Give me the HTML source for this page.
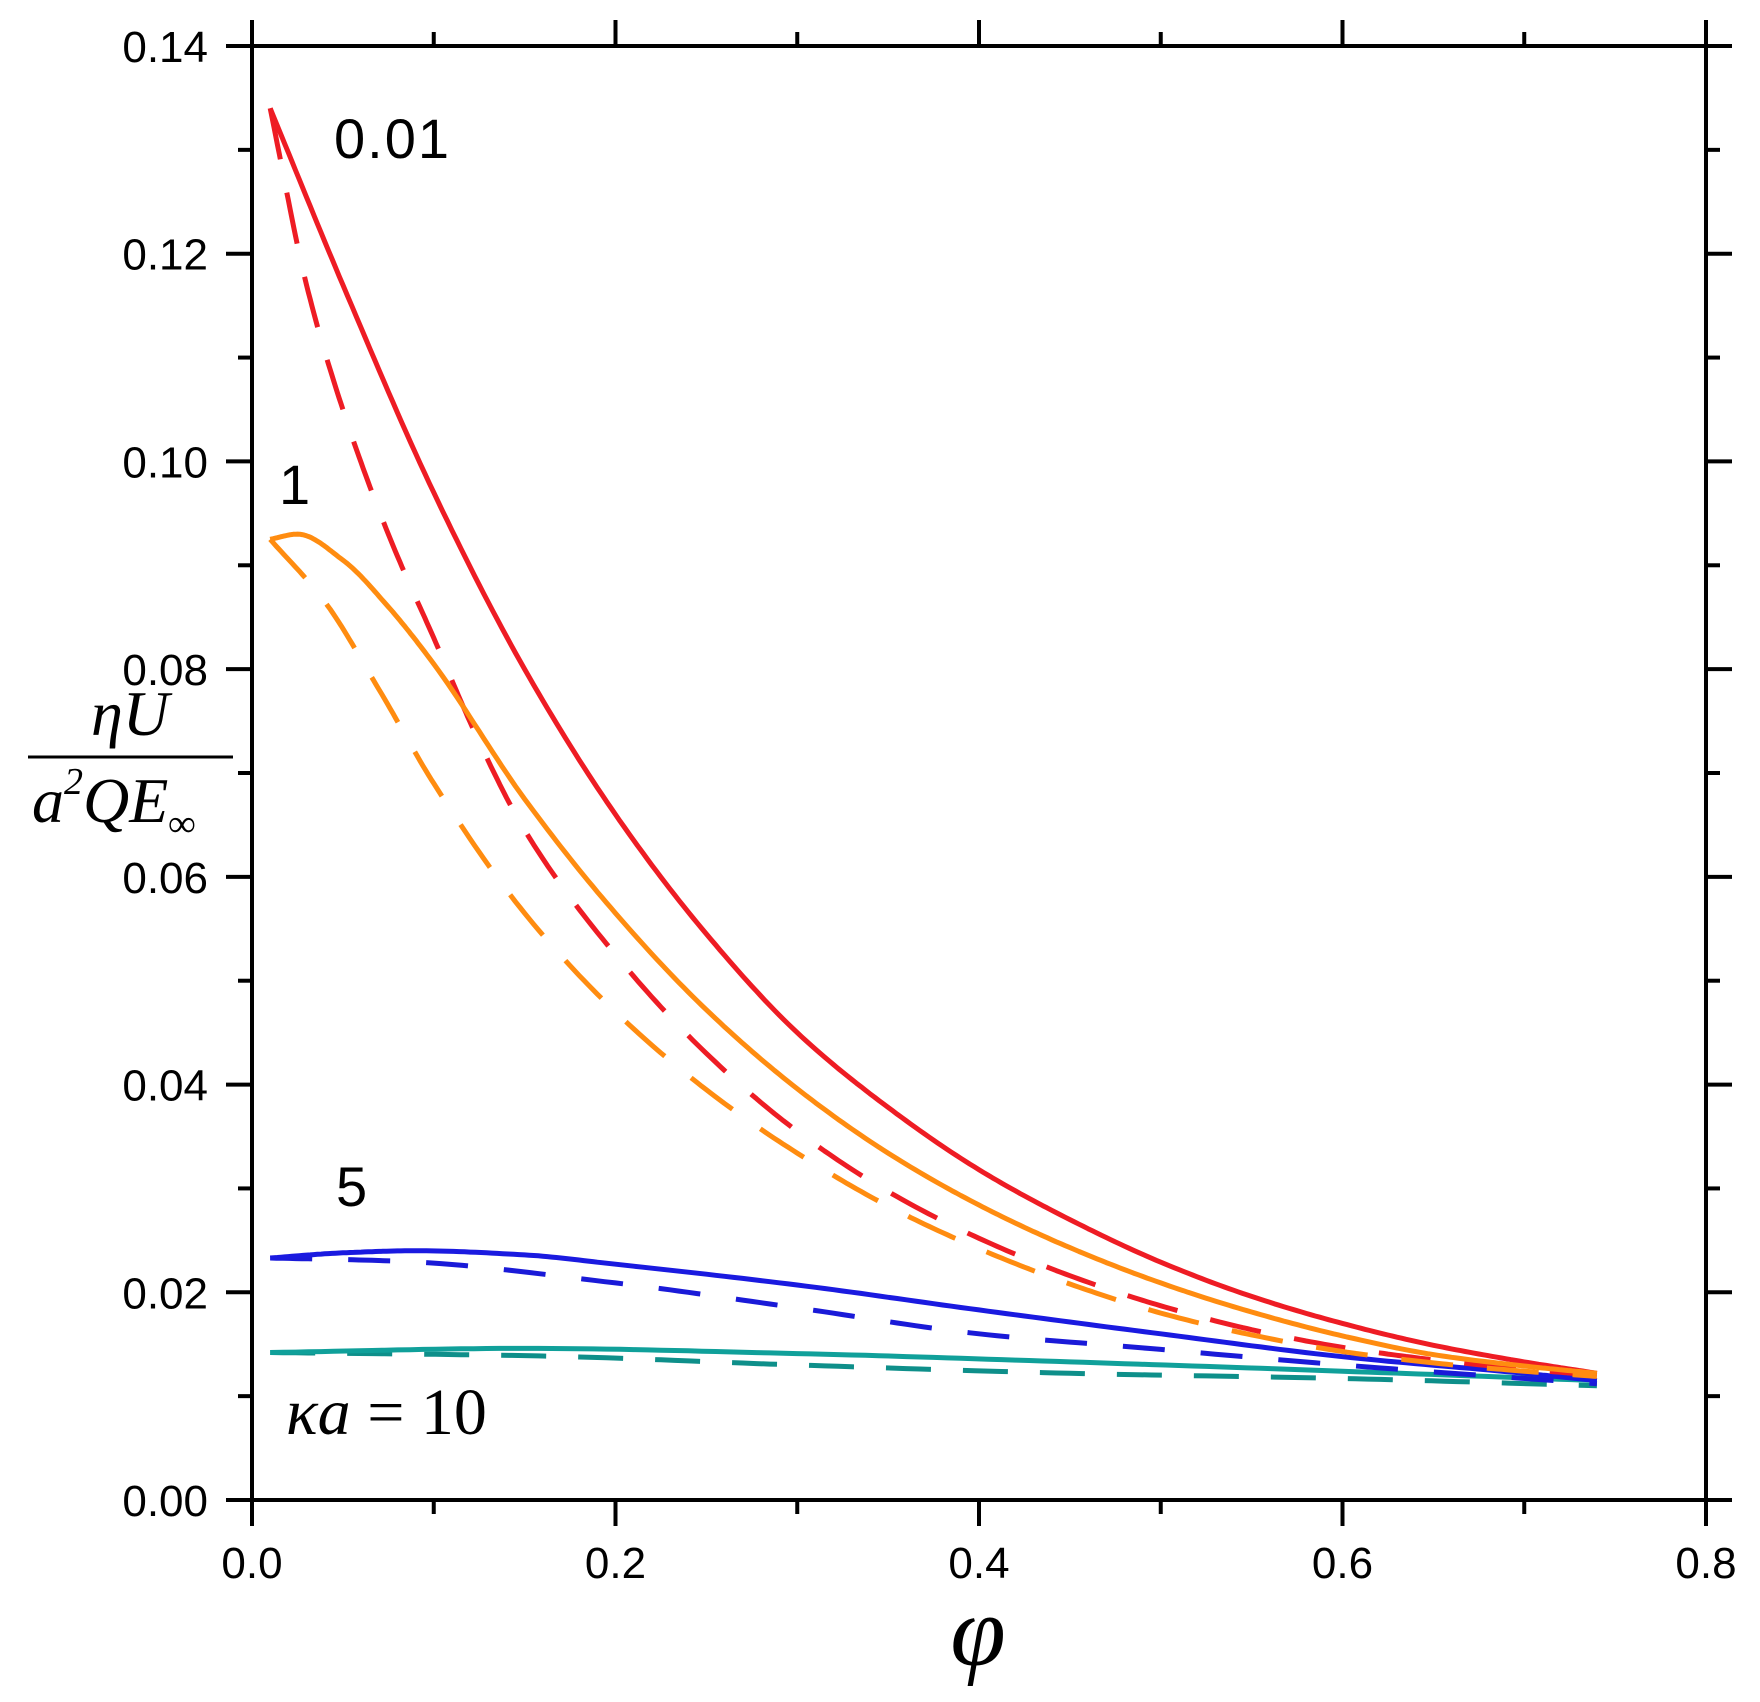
<!DOCTYPE html>
<html><head><meta charset="utf-8"><style>
html,body{margin:0;padding:0;background:#fff;}
svg{display:block;}
.tk{font-family:"Liberation Sans",sans-serif;fill:#000;}
.ser{font-family:"Liberation Serif",serif;font-style:italic;fill:#000;}
</style></head><body>
<svg id="chart" width="1760" height="1702" xmlns="http://www.w3.org/2000/svg">
<g id="axes"></g>
<g id="series"></g>
<text class="ser" x="130" y="735" style="font-size:64px" text-anchor="middle">ηU</text>
<line x1="28" y1="757" x2="233" y2="757" stroke="#000" stroke-width="3"/>
<text class="ser" x="32" y="822" style="font-size:64px">a<tspan style="font-size:38px" dy="-28">2</tspan><tspan dy="28">QE</tspan><tspan style="font-size:38px" dy="14">∞</tspan></text>
<text class="ser" x="978" y="1665" style="font-size:100px" text-anchor="middle">φ</text>
<text class="tk" x="334" y="158" style="font-size:56px;letter-spacing:2px">0.01</text>
<text class="tk" x="279" y="504" style="font-size:56px">1</text>
<text class="tk" x="336" y="1206" style="font-size:56px">5</text>
<text class="ser" x="286" y="1434" style="font-size:66px">κa<tspan style="font-style:normal"> = 10</tspan></text>
</svg>
<script>
const xTicks=[0.0,0.2,0.4,0.6,0.8];
const yTicks=[0.00,0.02,0.04,0.06,0.08,0.10,0.12,0.14];
const xTickLabels=["0.0","0.2","0.4","0.6","0.8"];
const yTickLabels=["0.00","0.02","0.04","0.06","0.08","0.10","0.12","0.14"];
const redSolidX=[0.01,0.05,0.1,0.15,0.2,0.25,0.3,0.35,0.4,0.45,0.5,0.55,0.6,0.65,0.7,0.74];
const redSolidY=[0.134,0.117,0.097,0.080,0.066,0.0545,0.045,0.0378,0.0318,0.027,0.0229,0.0196,0.017,0.0149,0.0133,0.0122];
const redDashX=[0.01,0.03,0.05,0.075,0.1,0.125,0.15,0.2,0.25,0.3,0.35,0.4,0.45,0.5,0.55,0.6,0.65,0.7,0.74];
const redDashY=[0.134,0.117,0.105,0.093,0.083,0.073,0.0645,0.0525,0.043,0.0355,0.0297,0.0252,0.0216,0.0187,0.0164,0.0147,0.0135,0.0126,0.012];
const orangeSolidX=[0.01,0.025,0.05,0.075,0.1,0.15,0.2,0.25,0.3,0.35,0.4,0.45,0.5,0.55,0.6,0.65,0.7,0.74];
const orangeSolidY=[0.0925,0.093,0.0905,0.086,0.0805,0.0675,0.0565,0.0472,0.0396,0.0334,0.0284,0.0243,0.0209,0.0181,0.0158,0.014,0.0129,0.0122];
const orangeDashX=[0.01,0.04,0.07,0.1,0.15,0.2,0.25,0.3,0.35,0.4,0.45,0.5,0.55,0.6,0.65,0.7,0.74];
const orangeDashY=[0.0925,0.0865,0.078,0.069,0.0565,0.047,0.0395,0.0334,0.0283,0.0242,0.0208,0.018,0.0159,0.0143,0.0132,0.0124,0.0119];
const blueSolidX=[0.01,0.05,0.09,0.15,0.2,0.3,0.4,0.5,0.6,0.7,0.74];
const blueSolidY=[0.0233,0.0238,0.024,0.0236,0.0227,0.0207,0.0183,0.016,0.0138,0.0122,0.0115];
const blueDashX=[0.01,0.08,0.2,0.3,0.4,0.5,0.6,0.74];
const blueDashY=[0.0233,0.023,0.0209,0.0185,0.016,0.0145,0.013,0.0112];
const tealSolidX=[0.01,0.15,0.3,0.45,0.6,0.74];
const tealSolidY=[0.0142,0.0146,0.0141,0.0133,0.0124,0.0115];
const tealDashX=[0.01,0.15,0.3,0.45,0.6,0.74];
const tealDashY=[0.0142,0.0139,0.013,0.0122,0.0117,0.011];

const X0=252,X1=1706,Y0=1500,Y1=46;
const sx=v=>X0+(v-0)/0.8*(X1-X0);
const sy=v=>Y0-(v-0)/0.14*(Y0-Y1);
const NS="http://www.w3.org/2000/svg";
const axes=document.getElementById('axes');
function mk(tag,attrs,parent){const e=document.createElementNS(NS,tag);for(const k in attrs)e.setAttribute(k,attrs[k]);parent.appendChild(e);return e;}
const frame=mk('rect',{x:X0,y:Y1,width:X1-X0,height:Y0-Y1,fill:'none',stroke:'#000','stroke-width':4},axes);


for(let i=0;i<=8;i++){const v=i*0.1;const x=sx(v);const maj=i%2===0;const L=maj?26:14;
 const t1=mk('line',{x1:x,y1:Y0,x2:x,y2:Y0+L,stroke:'#000','stroke-width':4},axes);
 
 
 const t2=mk('line',{x1:x,y1:Y1,x2:x,y2:Y1-L,stroke:'#000','stroke-width':4},axes);
 
 }
xTicks.forEach((v,i)=>{const t=mk('text',{x:sx(v),y:Y0+78,'text-anchor':'middle',class:'tk',style:'font-size:44px'},axes);t.textContent=xTickLabels[i];
 
 });
for(let i=0;i<=14;i++){const v=i*0.01;const y=sy(v);const maj=i%2===0;const L=maj?26:14;
 const t1=mk('line',{x1:X0,y1:y,x2:X0-L,y2:y,stroke:'#000','stroke-width':4},axes);
 
 
 const t2=mk('line',{x1:X1,y1:y,x2:X1+L,y2:y,stroke:'#000','stroke-width':4},axes);
 
 }
yTicks.forEach((v,i)=>{const t=mk('text',{x:208,y:sy(v)+16,'text-anchor':'end',class:'tk',style:'font-size:44px'},axes);t.textContent=yTickLabels[i];
 
 });

const series=document.getElementById('series');
function interp(xs,ys){const n=xs.length,h=[],d=[],m=new Array(n);
 for(let i=0;i<n-1;i++){h[i]=xs[i+1]-xs[i];d[i]=(ys[i+1]-ys[i])/h[i];}
 m[0]=d[0];m[n-1]=d[n-2];
 for(let i=1;i<n-1;i++){if(d[i-1]*d[i]<=0)m[i]=0;else{const w1=2*h[i]+h[i-1],w2=h[i]+2*h[i-1];m[i]=(w1+w2)/(w1/d[i-1]+w2/d[i]);}}
 let pts=[];
 for(let i=0;i<n-1;i++){const N=20;for(let k=0;k<(i===n-2?N+1:N);k++){const t=k/N,t2=t*t,t3=t2*t;
  const y=(2*t3-3*t2+1)*ys[i]+(t3-2*t2+t)*h[i]*m[i]+(-2*t3+3*t2)*ys[i+1]+(t3-t2)*h[i]*m[i+1];
  pts.push([sx(xs[i]+t*h[i]),sy(y)]);}}
 return 'M'+pts.map(p=>p[0].toFixed(1)+','+p[1].toFixed(1)).join(' L');}
function draw(xs,ys,color,dash,name){const e=mk('path',{d:interp(xs,ys),fill:'none',stroke:color,'stroke-width':5,'stroke-linejoin':'round'},series);
 if(dash)e.setAttribute('stroke-dasharray',dash);
 
 }
draw(tealDashX,tealDashY,'#0e8f8a','45 32','teal-dashed-line');
draw(tealSolidX,tealSolidY,'#10a09a',null,'teal-solid-line');
draw(blueDashX,blueDashY,'#1a1ad8','42 36','blue-dashed-line');
draw(blueSolidX,blueSolidY,'#1a1ae0',null,'blue-solid-line');
draw(redDashX,redDashY,'#ee1c24','52 34','red-dashed-line');
draw(orangeDashX,orangeDashY,'#ff8c10','52 34','orange-dashed-line');
draw(redSolidX,redSolidY,'#ee1c24',null,'red-solid-line');
draw(orangeSolidX,orangeSolidY,'#ff8c10',null,'orange-solid-line');
</script>
</body></html>
